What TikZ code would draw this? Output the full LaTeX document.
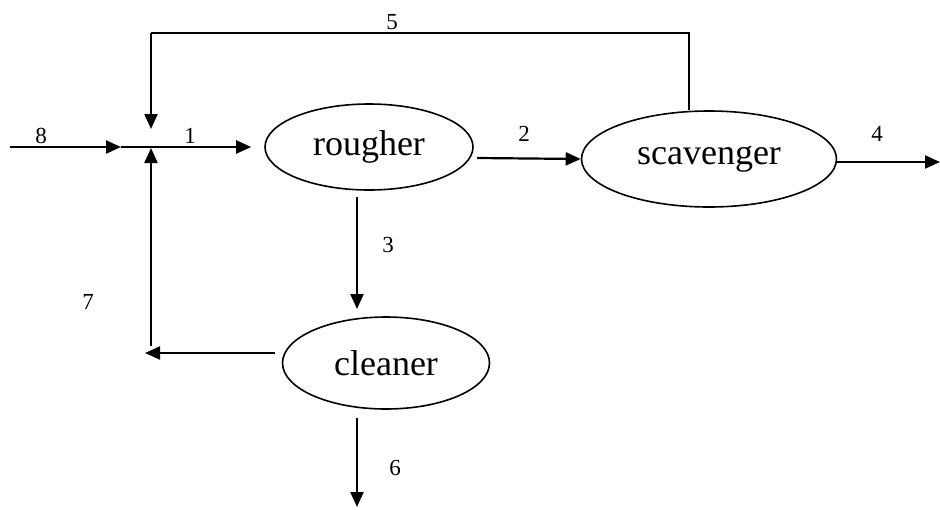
\documentclass[tikz,border=0pt]{standalone}
\usepackage{fontspec}
\setmainfont{Liberation Serif}
\usetikzlibrary{shapes.geometric,arrows.meta}
\tikzset{
  unit/.style={ellipse,draw,line width=1.6pt,inner sep=0pt,font=\fontsize{36}{40}\selectfont},
  lab/.style={inner sep=0pt,font=\fontsize{23}{26}\selectfont},
  flow/.style={line width=2.2pt,-{Triangle[length=15pt,width=13pt]}},
  plain/.style={line width=2.2pt}
}
\begin{document}
\begin{tikzpicture}[x=1pt,y=-1pt]
\useasboundingbox (0,0) rectangle (940,509);
% units
\node[unit,minimum width=208pt,minimum height=86pt] (rougher) at (369,147) {rougher};
\node[unit,minimum width=255pt,minimum height=96pt] (scav) at (709,159) {scavenger};
\node[unit,minimum width=207pt,minimum height=92pt] (cleaner) at (386,363) {cleaner};
% coordinates
\coordinate (in8) at (10,147);
\coordinate (j8) at (121,147);
\coordinate (jdown) at (151,129);
\coordinate (jup) at (151,148);
\coordinate (t5) at (151,33);
\coordinate (t6) at (689,33);
\coordinate (r2) at (477,158);
\coordinate (s4) at (837,162);
\coordinate (out4) at (940,162);
\coordinate (r3) at (357,197);
\coordinate (c3) at (357,309);
\coordinate (c7) at (275,353);
\coordinate (j7) at (145,353);
\coordinate (b7) at (151,346);
\coordinate (c6) at (357,418);
\coordinate (out6) at (357,507);
% connectors
\draw[flow] (in8) -- (j8);
\draw[flow,shorten >=13pt] (j8) -- (rougher.west);
\draw[flow] (r2) -- (scav.west);
\draw[flow] (s4) -- (out4);
\draw[plain] (scav.north -| t6) -- (t6) -- (t5);
\draw[flow] (t5) -- (jdown);
\draw[flow] (r3) -- (c3);
\draw[flow] (c7) -- (j7);
\draw[flow] (b7) -- (jup);
\draw[flow] (c6) -- (out6);
% labels
\node[lab] (l8) at (41,136) {8};
\node[lab] (l1) at (190,136) {1};
\node[lab] (l5) at (392,22) {5};
\node[lab] (l2) at (524,134) {2};
\node[lab] (l4) at (877,134) {4};
\node[lab] (l3) at (388,245) {3};
\node[lab] (l7) at (88,302) {7};
\node[lab] (l6) at (395,468) {6};
\end{tikzpicture}
\end{document}
